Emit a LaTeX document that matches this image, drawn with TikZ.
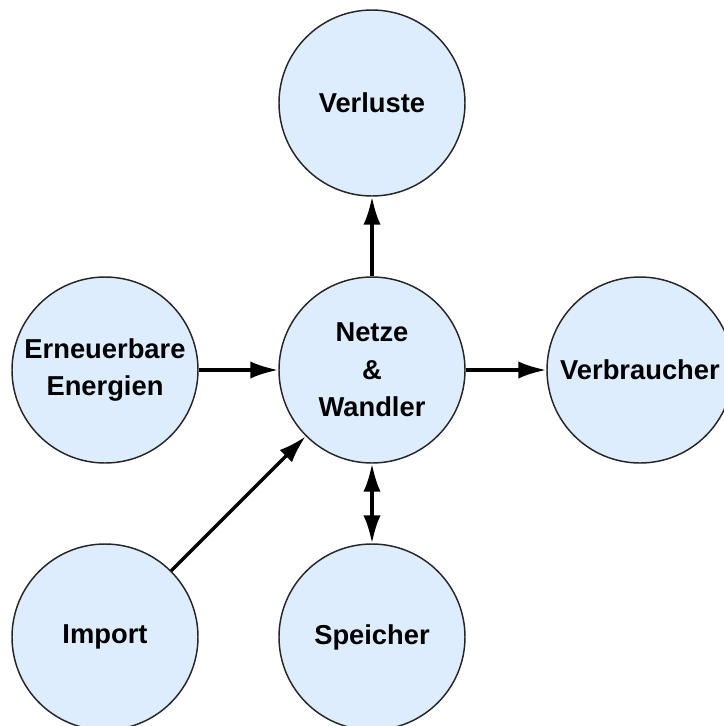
\documentclass[tikz,border=0pt]{standalone}
\usepackage{fontspec}
\setmainfont{Liberation Sans}
\usepackage{xcolor}
\usetikzlibrary{arrows.meta}
\definecolor{kreisblau}{RGB}{221,237,254}

\tikzset{
  kreis/.style={circle, draw=black!85, line width=1.1pt, fill=kreisblau,
    minimum size=139.5pt, inner sep=0pt, align=center,
    font=\fontsize{20.5}{28}\selectfont\bfseries},
  pfeil/.style={line width=2.6pt, -{Latex[length=21pt,width=13pt]}},
  doppelpfeil/.style={line width=2.6pt, {Latex[length=21pt,width=13pt]}-{Latex[length=21pt,width=13pt]}}
}

\begin{document}
\begin{tikzpicture}[x=0.75pt,y=0.75pt,yscale=-1,xscale=1]
\useasboundingbox (0,0) rectangle (724,726);

% Circle nodes
\node [kreis] (verl) at (372,103) {Verluste};
\node [kreis] (ern)  at (105,370) {Erneuerbare\\Energien};
\node [kreis] (net)  at (372,370) {Netze\\\&\\Wandler};
\node [kreis] (verb) at (640,370) {Verbraucher};
\node [kreis] (imp)  at (105,637) {Import};
\node [kreis] (spei) at (372,637) {Speicher};

% Arrows
\draw [pfeil] (ern) -- (net);
\draw [pfeil] (net) -- (verl);
\draw [pfeil] (net) -- (verb);
\draw [pfeil] (imp) -- (net);
\draw [doppelpfeil] (net) -- (spei);

\end{tikzpicture}
\end{document}
